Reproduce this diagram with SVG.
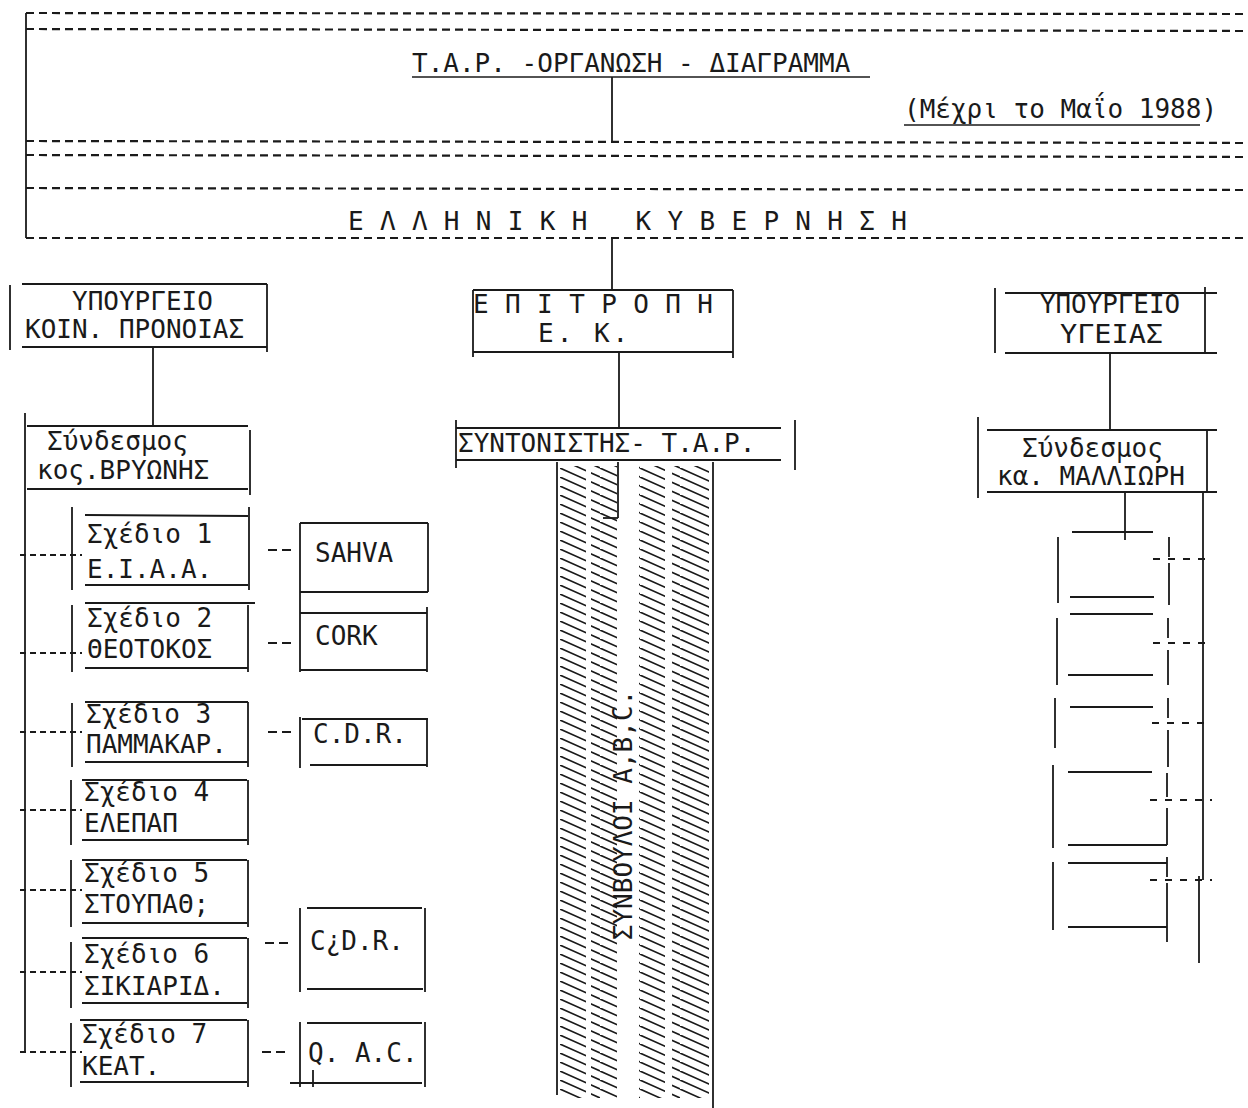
<svg xmlns="http://www.w3.org/2000/svg" width="1248" height="1108" viewBox="0 0 1248 1108">
<style>
.ln{stroke:#1a1a1a;stroke-width:1.8;fill:none;stroke-linecap:butt}
.dl{stroke:#1a1a1a;stroke-width:2.2;fill:none;stroke-dasharray:8 5}
.sd{stroke:#1a1a1a;stroke-width:2;fill:none;stroke-dasharray:6 4}
.t{font-family:"DejaVu Sans Mono","Liberation Mono",monospace;font-size:26px;fill:#1a1a1a}
.ul{stroke:#1a1a1a;stroke-width:1.6}
</style>
<defs>
<pattern id="hatch" patternUnits="userSpaceOnUse" width="40" height="9">
<path d="M0,-18 L40,0 M0,-9 L40,9 M0,0 L40,18" stroke="#1a1a1a" stroke-width="1.6" fill="none"/>
</pattern>
</defs>

<g id="header">
<line class="ln" x1="26" y1="13" x2="26" y2="238"/>
<line class="dl" x1="26" y1="13" x2="1248" y2="14"/>
<line class="dl" x1="26" y1="29" x2="1248" y2="31"/>
<line class="dl" x1="26" y1="141" x2="1248" y2="143"/>
<line class="dl" x1="26" y1="155" x2="1248" y2="157"/>
<line class="dl" x1="26" y1="188" x2="1248" y2="190"/>
<text class="t" x="412" y="72">Τ.Α.Ρ. -ΟΡΓΑΝΩΣΗ - ΔΙΑΓΡΑΜΜΑ</text>
<line class="ul" x1="412" y1="77" x2="870" y2="77"/>
<text class="t" x="904" y="118">(Μέχρι το Μαΐο 1988)</text>
<line class="ul" x1="904" y1="125" x2="1200" y2="125"/>
</g>

<g id="government">
<line class="dl" x1="26" y1="238" x2="1248" y2="238"/>
<text class="t" x="348" y="230" letter-spacing="16.3">ΕΛΛΗΝΙΚΗ ΚΥΒΕΡΝΗΣΗ</text>
</g>

<g id="ministry-welfare">
<line class="ln" x1="10" y1="285" x2="10" y2="350"/>
<line class="ln" x1="22" y1="284" x2="267" y2="284"/>
<line class="ln" x1="267" y1="284" x2="267" y2="352"/>
<line class="ln" x1="22" y1="347" x2="267" y2="347"/>
<text class="t" x="72" y="310">ΥΠΟΥΡΓΕΙΟ</text>
<text class="t" x="25" y="338">ΚΟΙΝ. ΠΡΟΝΟΙΑΣ</text>
</g>

<g id="syndesmos-vryonis">
<line class="ln" x1="27" y1="426" x2="248" y2="426"/>
<line class="ln" x1="27" y1="489" x2="248" y2="489"/>
<line class="ln" x1="250" y1="430" x2="250" y2="495"/>
<text class="t" x="47" y="450">Σύνδεσμος</text>
<text class="t" x="37" y="479">κος.ΒΡΥΩΝΗΣ</text>
</g>

<g id="plan1">
<line class="ln" x1="72" y1="507" x2="72" y2="590"/>
<line class="ln" x1="249" y1="507" x2="249" y2="590"/>
<line class="ln" x1="85" y1="515" x2="248" y2="516"/>
<line class="ln" x1="85" y1="585" x2="248" y2="585"/>
<text class="t" x="87" y="543">Σχέδιο 1</text>
<text class="t" x="87" y="578">Ε.Ι.Α.Α.</text>
</g>
<g id="plan2">
<line class="ln" x1="72" y1="605" x2="72" y2="672"/>
<line class="ln" x1="248" y1="605" x2="248" y2="672"/>
<line class="ln" x1="85" y1="603" x2="255" y2="603"/>
<line class="ln" x1="85" y1="668" x2="248" y2="668"/>
<text class="t" x="87" y="627">Σχέδιο 2</text>
<text class="t" x="87" y="658">ΘΕΟΤΟΚΟΣ</text>
</g>
<g id="plan3">
<line class="ln" x1="72" y1="703" x2="72" y2="767"/>
<line class="ln" x1="248" y1="702" x2="248" y2="767"/>
<line class="ln" x1="85" y1="702" x2="248" y2="702"/>
<line class="ln" x1="85" y1="762" x2="248" y2="762"/>
<text class="t" x="86" y="723">Σχέδιο 3</text>
<text class="t" x="86" y="753">ΠΑΜΜΑΚΑΡ.</text>
</g>
<g id="plan4">
<line class="ln" x1="71" y1="780" x2="71" y2="845"/>
<line class="ln" x1="248" y1="780" x2="248" y2="845"/>
<line class="ln" x1="82" y1="780" x2="247" y2="780"/>
<line class="ln" x1="82" y1="840" x2="247" y2="840"/>
<text class="t" x="84" y="801">Σχέδιο 4</text>
<text class="t" x="84" y="832">ΕΛΕΠΑΠ</text>
</g>
<g id="plan5">
<line class="ln" x1="71" y1="860" x2="71" y2="927"/>
<line class="ln" x1="248" y1="860" x2="248" y2="927"/>
<line class="ln" x1="82" y1="860" x2="247" y2="860"/>
<line class="ln" x1="82" y1="923" x2="247" y2="923"/>
<text class="t" x="84" y="882">Σχέδιο 5</text>
<text class="t" x="84" y="913">ΣΤΟΥΠΑΘ;</text>
</g>
<g id="plan6">
<line class="ln" x1="71" y1="942" x2="71" y2="1008"/>
<line class="ln" x1="248" y1="938" x2="248" y2="1008"/>
<line class="ln" x1="82" y1="938" x2="247" y2="938"/>
<line class="ln" x1="82" y1="1003" x2="247" y2="1003"/>
<text class="t" x="84" y="963">Σχέδιο 6</text>
<text class="t" x="84" y="995">ΣΙΚΙΑΡΙΔ.</text>
</g>
<g id="plan7">
<line class="ln" x1="71" y1="1023" x2="71" y2="1087"/>
<line class="ln" x1="248" y1="1020" x2="248" y2="1087"/>
<line class="ln" x1="80" y1="1020" x2="247" y2="1020"/>
<line class="ln" x1="80" y1="1082" x2="247" y2="1082"/>
<text class="t" x="82" y="1043">Σχέδιο 7</text>
<text class="t" x="82" y="1075">ΚΕΑΤ.</text>
</g>

<g id="sahva">
<line class="ln" x1="300" y1="523" x2="300" y2="607"/>
<line class="ln" x1="300" y1="523" x2="428" y2="523"/>
<line class="ln" x1="428" y1="523" x2="428" y2="592"/>
<line class="ln" x1="300" y1="592" x2="428" y2="592"/>
<text class="t" x="315" y="562">SAHVA</text>
</g>
<g id="cork">
<line class="ln" x1="300" y1="607" x2="300" y2="672"/>
<line class="ln" x1="300" y1="613" x2="427" y2="613"/>
<line class="ln" x1="427" y1="607" x2="427" y2="672"/>
<line class="ln" x1="300" y1="670" x2="427" y2="670"/>
<text class="t" x="315" y="645">CORK</text>
</g>
<g id="cdr1">
<line class="ln" x1="300" y1="717" x2="300" y2="768"/>
<line class="ln" x1="302" y1="719" x2="428" y2="719"/>
<line class="ln" x1="427" y1="719" x2="427" y2="767"/>
<line class="ln" x1="310" y1="765" x2="427" y2="765"/>
<text class="t" x="313" y="743">C.D.R.</text>
</g>
<g id="cdr2">
<line class="ln" x1="300" y1="908" x2="300" y2="992"/>
<line class="ln" x1="307" y1="908" x2="422" y2="908"/>
<line class="ln" x1="425" y1="908" x2="425" y2="992"/>
<line class="ln" x1="307" y1="989" x2="423" y2="989"/>
<text class="t" x="310" y="950">C¿D.R.</text>
</g>
<g id="qac">
<line class="ln" x1="300" y1="1022" x2="300" y2="1087"/>
<line class="ln" x1="307" y1="1023" x2="422" y2="1023"/>
<line class="ln" x1="425" y1="1022" x2="425" y2="1087"/>
<line class="ln" x1="290" y1="1083" x2="422" y2="1083"/>
<line class="ln" x1="313" y1="1070" x2="313" y2="1087"/>
<text class="t" x="308" y="1062">Q. A.C.</text>
</g>

<g id="committee">
<line class="ln" x1="473" y1="290" x2="733" y2="290"/>
<line class="ln" x1="473" y1="352" x2="733" y2="352"/>
<line class="ln" x1="473" y1="290" x2="473" y2="357"/>
<line class="ln" x1="733" y1="290" x2="733" y2="358"/>
<text class="t" x="473" y="313" font-size="27" letter-spacing="16.4">ΕΠΙΤΡΟΠΗ</text>
<text class="t" x="538" y="342" letter-spacing="3">Ε. Κ.</text>
</g>

<g id="coordinator">
<line class="ln" x1="456" y1="428" x2="781" y2="428"/>
<line class="ln" x1="456" y1="460" x2="781" y2="460"/>
<line class="ln" x1="456" y1="420" x2="456" y2="468"/>
<line class="ln" x1="795" y1="420" x2="795" y2="470"/>
<text class="t" x="458" y="452">ΣΥΝΤΟΝΙΣΤΗΣ- Τ.Α.Ρ.</text>
</g>

<g id="advisors">
<rect x="560" y="466" width="26" height="632" fill="url(#hatch)"/>
<rect x="591" y="466" width="26" height="632" fill="url(#hatch)"/>
<rect x="639" y="466" width="26" height="632" fill="url(#hatch)"/>
<rect x="672" y="466" width="37" height="632" fill="url(#hatch)"/>
<line class="ln" x1="557" y1="462" x2="557" y2="1095"/>
<line class="ln" x1="713" y1="462" x2="713" y2="1108"/>
<line class="ln" x1="618" y1="462" x2="618" y2="518"/>
<line class="ln" x1="603" y1="518" x2="618" y2="518"/>
<text class="t" font-size="30" text-anchor="middle" transform="translate(632,815) rotate(-90)">ΣΥΝΒΟΥΛΟΙ Α,Β,C.</text>
</g>

<g id="ministry-health">
<line class="ln" x1="995" y1="288" x2="995" y2="353"/>
<line class="ln" x1="1005" y1="293" x2="1217" y2="293"/>
<line class="ln" x1="1205" y1="287" x2="1205" y2="353"/>
<line class="ln" x1="1005" y1="353" x2="1217" y2="353"/>
<text class="t" x="1040" y="313" font-size="20" textLength="140" lengthAdjust="spacingAndGlyphs">ΥΠΟΥΡΓΕΙΟ</text>
<text class="t" x="1060" y="343" font-size="20" textLength="103" lengthAdjust="spacingAndGlyphs">ΥΓΕΙΑΣ</text>
</g>

<g id="syndesmos-malliori">
<line class="ln" x1="978" y1="417" x2="978" y2="498"/>
<line class="ln" x1="987" y1="430" x2="1217" y2="430"/>
<line class="ln" x1="1207" y1="430" x2="1207" y2="493"/>
<line class="ln" x1="987" y1="492" x2="1217" y2="492"/>
<text class="t" x="1022" y="457">Σύνδεσμος</text>
<text class="t" x="997" y="485">κα. ΜΑΛΛΙΩΡΗ</text>
</g>

<g id="health-units">
<line class="ln" x1="1072" y1="532" x2="1153" y2="532"/>
<line class="ln" x1="1058" y1="537" x2="1058" y2="603"/>
<line class="ln" x1="1070" y1="597" x2="1154" y2="597"/>
<line class="ln" x1="1070" y1="614" x2="1153" y2="614"/>
<line class="ln" x1="1057" y1="618" x2="1057" y2="685"/>
<line class="ln" x1="1068" y1="675" x2="1153" y2="675"/>
<line class="ln" x1="1070" y1="707" x2="1153" y2="707"/>
<line class="ln" x1="1055" y1="698" x2="1055" y2="748"/>
<line class="ln" x1="1068" y1="772" x2="1152" y2="772"/>
<line class="ln" x1="1053" y1="765" x2="1053" y2="848"/>
<line class="ln" x1="1068" y1="845" x2="1167" y2="845"/>
<line class="ln" x1="1068" y1="863" x2="1167" y2="863"/>
<line class="ln" x1="1053" y1="862" x2="1053" y2="930"/>
<line class="ln" x1="1068" y1="927" x2="1167" y2="927"/>
<path class="ln" d="M1169,537 V557 M1169,563 V605 M1168,618 V638 M1168,650 V685 M1168,698 V718 M1168,730 V767 M1167,773 V797 M1167,808 V845 M1167,857 V877 M1167,883 V942"/>
</g>

<g id="connectors">
<line class="ln" x1="612" y1="77" x2="612" y2="141"/>
<line class="ln" x1="612" y1="238" x2="612" y2="290"/>
<line class="ln" x1="153" y1="347" x2="153" y2="426"/>
<line class="ln" x1="619" y1="352" x2="619" y2="428"/>
<line class="ln" x1="1110" y1="353" x2="1110" y2="430"/>
<line class="ln" x1="25" y1="413" x2="25" y2="1052"/>
<line class="sd" x1="20" y1="555" x2="82" y2="555"/>
<line class="sd" x1="20" y1="653" x2="82" y2="653"/>
<line class="sd" x1="20" y1="732" x2="82" y2="732"/>
<line class="sd" x1="20" y1="810" x2="82" y2="810"/>
<line class="sd" x1="20" y1="890" x2="82" y2="890"/>
<line class="sd" x1="20" y1="972" x2="82" y2="972"/>
<line class="sd" x1="20" y1="1052" x2="82" y2="1052"/>
<line class="dl" x1="268" y1="550" x2="294" y2="550" style="stroke-dasharray:9 5"/>
<line class="dl" x1="268" y1="643" x2="294" y2="643" style="stroke-dasharray:9 5"/>
<line class="dl" x1="268" y1="732" x2="294" y2="732" style="stroke-dasharray:9 5"/>
<line class="dl" x1="265" y1="943" x2="291" y2="943" style="stroke-dasharray:9 5"/>
<line class="dl" x1="262" y1="1052" x2="288" y2="1052" style="stroke-dasharray:9 5"/>
<line class="ln" x1="1125" y1="492" x2="1125" y2="540"/>
<path class="ln" d="M1203,493 V880 M1199,876 V963"/>
<line class="sd" x1="1153" y1="559" x2="1212" y2="559" style="stroke-dasharray:7 8"/>
<line class="sd" x1="1153" y1="643" x2="1212" y2="643" style="stroke-dasharray:7 8"/>
<line class="sd" x1="1152" y1="723" x2="1212" y2="723" style="stroke-dasharray:7 8"/>
<line class="sd" x1="1150" y1="800" x2="1212" y2="800" style="stroke-dasharray:7 8"/>
<line class="sd" x1="1150" y1="880" x2="1212" y2="880" style="stroke-dasharray:7 8"/>
</g>
</svg>
